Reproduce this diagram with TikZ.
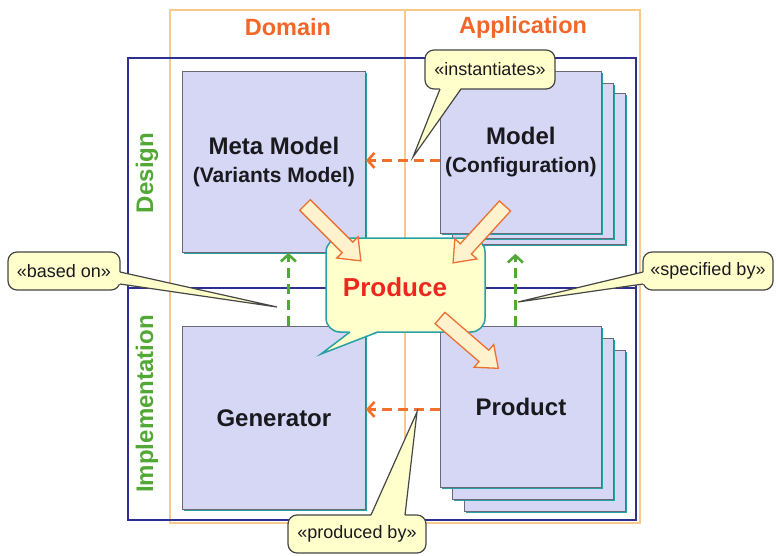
\documentclass[tikz,border=0pt]{standalone}
\usepackage{fontspec}
\setmainfont{Liberation Sans}
\usetikzlibrary{arrows.meta,shadows,calc}
\definecolor{frameblue}{RGB}{45,48,145}
\definecolor{frameorange}{RGB}{247,202,140}
\definecolor{boxfill}{RGB}{213,215,245}
\definecolor{boxline}{RGB}{105,105,120}
\definecolor{tealc}{RGB}{40,160,165}
\definecolor{hdrorange}{RGB}{242,102,40}
\definecolor{lblgreen}{RGB}{82,168,52}
\definecolor{calloutfill}{RGB}{255,255,204}
\definecolor{calloutline}{RGB}{70,70,70}
\definecolor{dashorange}{RGB}{242,112,40}
\definecolor{producered}{RGB}{236,40,30}
\definecolor{arrowfill}{RGB}{255,242,205}
\definecolor{arrowline}{RGB}{236,112,50}
\definecolor{textblack}{RGB}{25,25,30}
\begin{document}
\begin{tikzpicture}[x=1pt,y=-1pt,
  blueframe/.style={draw=frameblue,line width=2pt},
  orangeframe/.style={draw=frameorange,line width=2pt},
  box/.style={draw=boxline,line width=0.8pt,fill=boxfill,inner sep=0pt,anchor=north west,
    align=center,text=textblack,font=\fontsize{24}{28}\selectfont\bfseries,
    drop shadow={shadow xshift=2pt,shadow yshift=-2pt,fill=tealc,opacity=1}},
  hdr/.style={text=hdrorange,font=\fontsize{23.5}{26}\selectfont\bfseries},
  side/.style={text=lblgreen,font=\fontsize{24}{26}\selectfont\bfseries,rotate=90},
  ctext/.style={inner sep=0pt,font=\fontsize{18}{20}\selectfont,text=textblack},
  cbody/.style={fill=calloutfill,draw=calloutline,line width=1.2pt,rounded corners=9pt},
  ctail/.style={fill=calloutfill},
  ctailline/.style={draw=calloutline,line width=1.2pt,line join=miter},
  odash/.style={draw=dashorange,line width=2.6pt,dash pattern=on 10pt off 6pt,
    -{Straight Barb[length=7pt,width=15pt,line width=2.6pt]}},
  gdash/.style={draw=lblgreen,line width=2.6pt,dash pattern=on 10pt off 6pt,
    -{Straight Barb[length=7pt,width=15pt,line width=2.6pt]}},
  blockarrow/.style={fill=arrowfill,draw=arrowline,line width=1.3pt,line join=miter}
]
\useasboundingbox (0,0) rectangle (776,556);
% frames
\draw[orangeframe] (170,10) rectangle (640,523);
\draw[orangeframe] (405,10) -- (405,523);
\draw[blueframe] (128,58) rectangle (636,520);
\draw[blueframe] (128,288) -- (636,288);
% headers
\node[hdr] (dom) at (288,27) {Domain};
\node[hdr] (app) at (523,27) {Application};
\node[side] (des) at (147,173) {Design};
\node[side] (imp) at (147,404) {Implementation};
% boxes
\node[box,minimum width=183pt,minimum height=181pt] (meta) at (182,71)
  {Meta Model\\{\fontsize{21}{28}\selectfont (Variants Model)}};
\node[box,minimum width=183pt,minimum height=183pt] (gen) at (182,326) {Generator};
\node[box,minimum width=161pt,minimum height=151pt] (model3) at (464,93) {};
\node[box,minimum width=161pt,minimum height=155pt] (model2) at (452,83) {};
\node[box,minimum width=161pt,minimum height=162pt] (model) at (440,71)
  {Model\\{\fontsize{21}{28}\selectfont (Configuration)}};
\node[box,minimum width=161pt,minimum height=161pt] (prod3) at (464,350) {};
\node[box,minimum width=161pt,minimum height=161pt] (prod2) at (452,338) {};
\node[box,minimum width=161pt,minimum height=161pt] (prod) at (440,326) {Product};
% dashed connectors
\draw[odash] ([yshift=-8pt]model.west) -- ([yshift=-8pt]model.west -| meta.east);
\draw[odash] ([yshift=-2.5pt]prod.west) -- ([yshift=-2.5pt]prod.west -| gen.east);
\draw[gdash] ([xshift=14.5pt]gen.north) -- ([xshift=14.5pt]gen.north |- meta.south);
\draw[gdash,shorten >=9pt] ([xshift=-5.5pt]prod.north) -- ([xshift=-5.5pt]prod.north |- model3.south);
% callouts
\coordinate (instTip) at (413,157);
\draw[cbody] (425,50) rectangle (555,89);
\fill[ctail] (440,88) -- (instTip) -- (461,88) -- (461,84) -- (440,84) -- cycle;
\draw[ctailline] (440,89) -- (instTip) -- (461,89);
\node[ctext] (inst) at (490,69.5) {«instantiates»};

\coordinate (baseTip) at (277,307);
\draw[cbody] (8,252) rectangle (120,290);
\fill[ctail] (119,272) -- (baseTip) -- (119,284) -- (115,284) -- (115,272) -- cycle;
\draw[ctailline] (120,272) -- (baseTip) -- (120,284);
\node[ctext] (based) at (64,271) {«based on»};

\coordinate (specTip) at (518,302);
\draw[cbody] (643,252) rectangle (773,290);
\fill[ctail] (644,272) -- (specTip) -- (644,284) -- (648,284) -- (648,272) -- cycle;
\draw[ctailline] (643,272) -- (specTip) -- (643,284);
\node[ctext] (spec) at (708,271) {«specified by»};

\coordinate (prodTip) at (417,412);
\draw[cbody] (288,515) rectangle (426,553);
\fill[ctail] (371,516) -- (prodTip) -- (405,516) -- (405,520) -- (371,520) -- cycle;
\draw[ctailline] (371,515) -- (prodTip) -- (405,515);
\node[ctext] (prodby) at (357,534) {«produced by»};

% produce callout
\coordinate (pTip) at (321,354);
\draw[fill=calloutfill,draw=tealc,line width=1.5pt,rounded corners=14pt] (326,238) rectangle (485,332);
\fill[calloutfill] (350,331) -- (pTip) -- (378,331) -- (378,326) -- (350,326) -- cycle;
\draw[draw=tealc,line width=1.5pt] (350,332) -- (pTip) -- (378,332);
\node[text=producered,font=\fontsize{26}{30}\selectfont\bfseries] (produce) at (395,287) {Produce};

% block arrows
\begin{scope}[shift={(305,205)},rotate=-45]
\draw[blockarrow] (0,-7.5) -- (60,-7.5) -- (60,-15) -- (79,0) -- (60,15) -- (60,7.5) -- (0,7.5) -- cycle;
\end{scope}
\begin{scope}[shift={(505,206)},rotate=-132.4]
\draw[blockarrow] (0,-7.5) -- (58,-7.5) -- (58,-15) -- (77,0) -- (58,15) -- (58,7.5) -- (0,7.5) -- cycle;
\end{scope}
\begin{scope}[shift={(440,318)},rotate=-40.8]
\draw[blockarrow] (0,-7.5) -- (58,-7.5) -- (58,-15) -- (77,0) -- (58,15) -- (58,7.5) -- (0,7.5) -- cycle;
\end{scope}
\end{tikzpicture}
\end{document}
